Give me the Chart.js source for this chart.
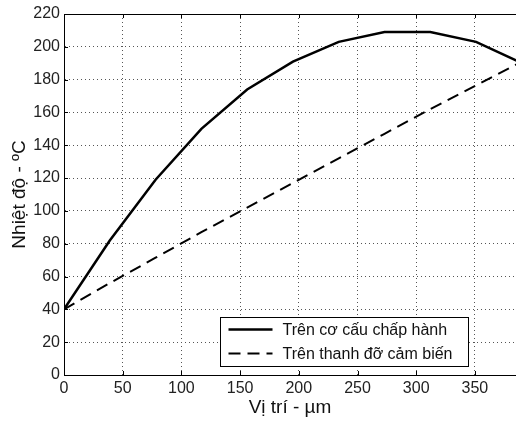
<!DOCTYPE html>
<html><head><meta charset="utf-8">
<script src="https://cdn.jsdelivr.net/npm/chart.js@4/dist/chart.umd.min.js"></script>
<style>html,body{margin:0;padding:0;background:#fff}#wrap{width:516px;height:421px}</style>
</head><body><div id="wrap"><canvas id="c" width="516" height="421"></canvas></div>
<script>
const positions = [0, 39, 78, 117, 156, 195, 234, 273, 312, 351, 390];
const actuator = [40, 82, 119, 150, 174, 191, 203, 209, 209, 203, 190];
const sensorBar = [40, 56, 71.5, 87, 102, 117, 132, 147, 162, 176.5, 191];
const xTicks = [0, 50, 100, 150, 200, 250, 300, 350];
const yTicks = [0, 20, 40, 60, 80, 100, 120, 140, 160, 180, 200, 220];
const seriesLabels = ['Trên cơ cấu chấp hành', 'Trên thanh đỡ cảm biến'];

const FONT = 'Liberation Sans, Arial, sans-serif';
const toXY = (ys) => positions.map((x, i) => ({x: x, y: ys[i]}));

const frame = {
  id: 'frame',
  afterDatasetsDraw(chart) {
    const {ctx, chartArea: a} = chart;
    ctx.save();
    ctx.strokeStyle = '#000';
    ctx.lineWidth = 1;
    ctx.beginPath();
    ctx.moveTo(a.left, a.top + 0.5); ctx.lineTo(a.right, a.top + 0.5);
    ctx.stroke();
    const xs = chart.scales.x, ys = chart.scales.y;
    ctx.beginPath();
    xTicks.forEach(v => {
      const px = Math.round(xs.getPixelForValue(v)) + 0.5;
      ctx.moveTo(px, a.bottom); ctx.lineTo(px, a.bottom - 4);
      ctx.moveTo(px, a.top); ctx.lineTo(px, a.top + 4);
    });
    yTicks.forEach(v => {
      const py = Math.round(ys.getPixelForValue(v)) + 0.5;
      ctx.moveTo(a.left, py); ctx.lineTo(a.left + 4, py);
    });
    ctx.stroke();
    // legend
    const bx = 220.5, by = 317.5, bw = 248, bh = 49;
    ctx.fillStyle = '#fff';
    ctx.fillRect(bx, by, bw, bh);
    ctx.lineWidth = 1;
    ctx.strokeRect(bx, by, bw, bh);
    chart.data.datasets.forEach((ds, i) => {
      const cy = by + 12 + i * 24;
      ctx.beginPath();
      ctx.lineWidth = ds.borderWidth;
      ctx.setLineDash(ds.borderDash || []);
      ctx.moveTo(bx + 8, cy); ctx.lineTo(bx + 52, cy);
      ctx.stroke();
      ctx.setLineDash([]);
      ctx.fillStyle = '#111';
      ctx.font = '16px ' + FONT;
      ctx.textBaseline = 'middle';
      ctx.fillText(ds.label, bx + 62, cy + 1);
    });
    ctx.restore();
  }
};

new Chart(document.getElementById('c'), {
  type: 'line',
  data: {
    datasets: [
      {label: seriesLabels[0], data: toXY(actuator), borderColor: '#000', borderWidth: 2.5, pointRadius: 0, tension: 0, fill: false},
      {label: seriesLabels[1], data: toXY(sensorBar), borderColor: '#000', borderWidth: 2, borderDash: [12, 7], pointRadius: 0, tension: 0, fill: false}
    ]
  },
  options: {
    responsive: false,
    animation: false,
    devicePixelRatio: 1,
    layout: {padding: {top: 14, right: 0, left: 0, bottom: 0}},
    plugins: {legend: {display: false}, tooltip: {enabled: false}},
    scales: {
      x: {
        type: 'linear', min: 0, max: 385,
        afterBuildTicks: (s) => { s.ticks = xTicks.map(v => ({value: v})); },
        afterFit: (s) => { s.height = 46; },
        grid: {color: '#555', lineWidth: 1, drawTicks: false},
        border: {display: true, color: '#000', width: 1, dash: [1, 3]},
        ticks: {color: '#222', font: {family: FONT, size: 16}, padding: 4, maxRotation: 0},
        title: {display: true, text: 'Vị trí - µm', color: '#111', font: {family: FONT, size: 19}, padding: {top: 0, bottom: 2}}
      },
      y: {
        type: 'linear', min: 0, max: 220,
        afterBuildTicks: (s) => { s.ticks = yTicks.map(v => ({value: v})); },
        afterFit: (s) => { s.width = 64; },
        grid: {color: '#555', lineWidth: 1, drawTicks: false},
        border: {display: true, color: '#000', width: 1, dash: [1, 3]},
        ticks: {color: '#222', font: {family: FONT, size: 16}, padding: 4},
        title: {display: true, text: 'Nhiệt độ - ºC', color: '#111', font: {family: FONT, size: 19}, padding: {top: 8, bottom: 0}}
      }
    }
  },
  plugins: [frame]
});
</script></body></html>
